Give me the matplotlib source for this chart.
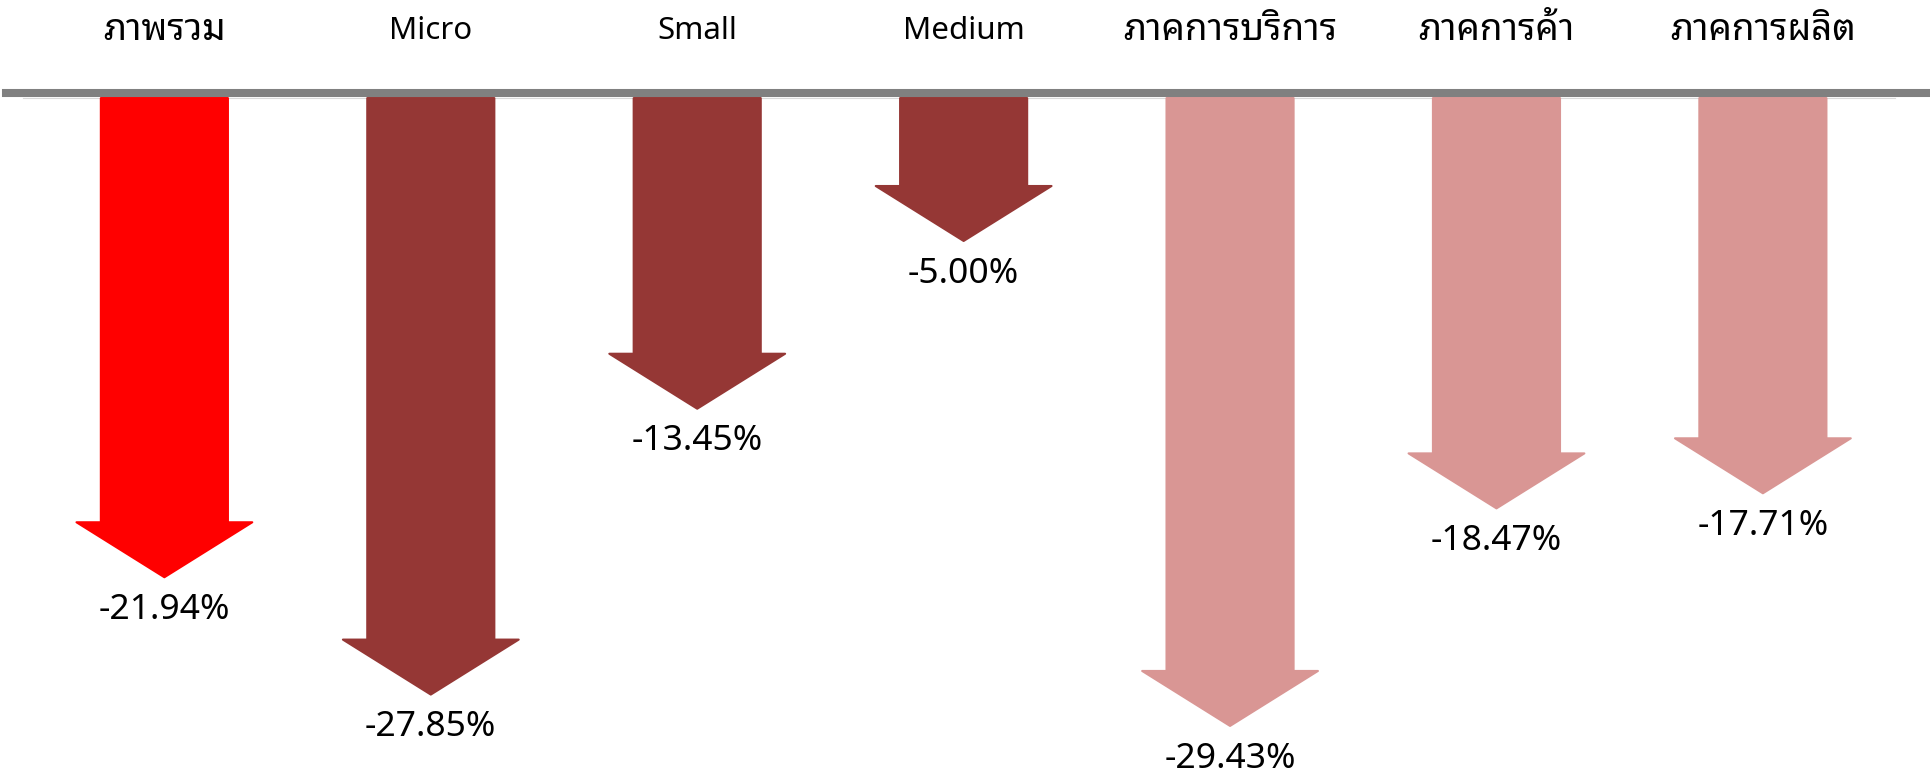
import matplotlib
matplotlib.use("Agg")
import matplotlib.pyplot as plt
from matplotlib.patches import Polygon

# ---- data ----
categories = ["ภาพรวม", "Micro", "Small", "Medium", "ภาคการบริการ", "ภาคการค้า", "ภาคการผลิต"]
changes = [-21.94, -27.85, -13.45, -5.00, -29.43, -18.47, -17.71]

# ---- style ----
arrow_colors = ["#FF0000", "#953735", "#953735", "#953735", "#D99694", "#D99694", "#D99694"]
FONT = ["Noto Sans", "Noto Sans Thai Looped", "DejaVu Sans"]
BODY_W = 0.477
HEAD_W = 0.66
HEAD_LEN = 2.77
TIP_PAD = 2.2      # arrow tips sit a bit below the value
LABEL_GAP = 1.65

fig = plt.figure(figsize=(19.31, 7.71), dpi=100)
ax = fig.add_axes([0, 0, 1, 1])
ax.set_xlim(-0.617, 6.631)
ax.set_ylim(-33.9, 4.94)
ax.axis("off")

# baseline bar at the top
ax.axhline(0.25, xmin=6 / 1931, xmax=1, color="#808080", linewidth=5.8, zorder=3)
ax.axhline(-0.02, xmin=23 / 1931, xmax=1895 / 1931, color="#D9D9D9", linewidth=0.8, zorder=2)

for i, (cat, val) in enumerate(zip(categories, changes)):
    tip = val - TIP_PAD
    neck = tip + HEAD_LEN
    pts = [
        (i - BODY_W / 2, 0), (i - BODY_W / 2, neck), (i - HEAD_W / 2, neck),
        (i, tip),
        (i + HEAD_W / 2, neck), (i + BODY_W / 2, neck), (i + BODY_W / 2, 0),
    ]
    ax.add_patch(Polygon(pts, closed=True, facecolor=arrow_colors[i], edgecolor=arrow_colors[i],
                         linewidth=1.5, joinstyle="round", zorder=2))
    ax.text(i, tip - LABEL_GAP, f"{val:.2f}%", ha="center", va="center",
            fontsize=25.5, family=FONT, color="black")
    # Thai glyphs in the looped font come out small, bump them up
    size = 22.5 if cat.isascii() else 26.5
    ax.text(i, 3.4, cat, ha="center", va="center", fontsize=size, family=FONT, color="black")

fig.savefig("out.png", dpi=100)
plt.close(fig)
